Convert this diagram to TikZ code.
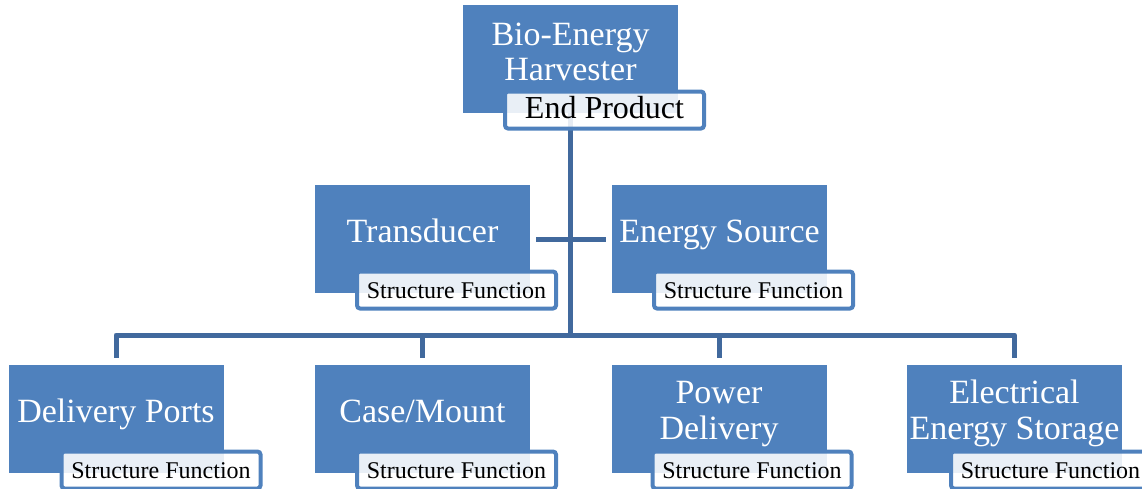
\documentclass[tikz,border=0pt]{standalone}
\usepackage{fontspec}
\setmainfont{Liberation Serif}
\definecolor{boxblue}{HTML}{4F81BD}
\definecolor{linkblue}{HTML}{41699D}
\begin{document}
\begin{tikzpicture}[x=1pt,y=-1pt,
  mainbox/.style={fill=boxblue, minimum width=215pt, minimum height=108pt, inner sep=0pt},
  maintext/.style={text=white, font=\fontsize{34}{35.5}\selectfont, align=center, inner sep=0pt, anchor=base},
  tag/.style={draw=boxblue, line width=4pt, rounded corners=3pt, fill=white, fill opacity=0.88, text opacity=1,
    minimum width=199pt, minimum height=37pt, inner sep=0pt, text height=16.5pt, text depth=0pt,
    font=\fontsize{24}{26}\selectfont},
  bigtag/.style={tag, font=\fontsize{32}{34}\selectfont, text height=22pt, text depth=5pt},
  conn/.style={draw=linkblue, line width=5pt, line join=round}]
\useasboundingbox (0,0) rectangle (1142,488);

% main boxes
\node[mainbox] (top) at (570.5,59) {};
\node[mainbox] (tr)  at (422.5,239) {};
\node[mainbox] (es)  at (719.5,239) {};
\node[mainbox] (dp)  at (116,419) {};
\node[mainbox] (cm)  at (422.5,419) {};
\node[mainbox] (pd)  at (719,419) {};
\node[mainbox] (ees) at (1014.5,419) {};

% connectors
\coordinate (bar) at (570.5,335);
\draw[conn] (top.center) -- (top.center |- bar);
\draw[conn] ([yshift=7pt]dp.north) |- (bar) -| ([yshift=7pt]ees.north);
\draw[conn] ([yshift=7pt]cm.north) -- (cm.north |- bar);
\draw[conn] ([yshift=7pt]pd.north) -- (pd.north |- bar);
\draw[conn] ([xshift=6pt]tr.east) -- ([xshift=-6pt]es.west);

% redraw top box over the vertical connector
\node[mainbox] at (top.center) {};

% texts in main boxes (base = baseline of the last line)
\node[maintext] (top-t) at (570.5,80.5) {Bio-Energy\\Harvester};
\node[maintext] (tr-t)  at (422.5,242) {Transducer};
\node[maintext] (es-t)  at (719.5,242) {Energy Source};
\node[maintext] (dp-t)  at (116,422) {Delivery Ports};
\node[maintext] (cm-t)  at (422.5,422) {Case/Mount};
\node[maintext] (pd-t)  at (719,439) {Power\\Delivery};
\node[maintext] (ees-t) at (1014.5,439) {Electrical\\Energy Storage};

% tags
\node[bigtag] (top-g) at ([shift={(34,51)}]top.center) {End Product};
\node[tag] (tr-g)  at ([shift={(34,51)}]tr.center) {Structure Function};
\node[tag] (es-g)  at ([shift={(34,51)}]es.center) {Structure Function};
\node[tag] (dp-g)  at ([shift={(45,51)}]dp.center) {Structure Function};
\node[tag] (cm-g)  at ([shift={(34,51)}]cm.center) {Structure Function};
\node[tag] (pd-g)  at ([shift={(33,51)}]pd.center) {Structure Function};
\node[tag] (ees-g) at ([shift={(36,51)}]ees.center) {Structure Function};
\end{tikzpicture}
\end{document}
